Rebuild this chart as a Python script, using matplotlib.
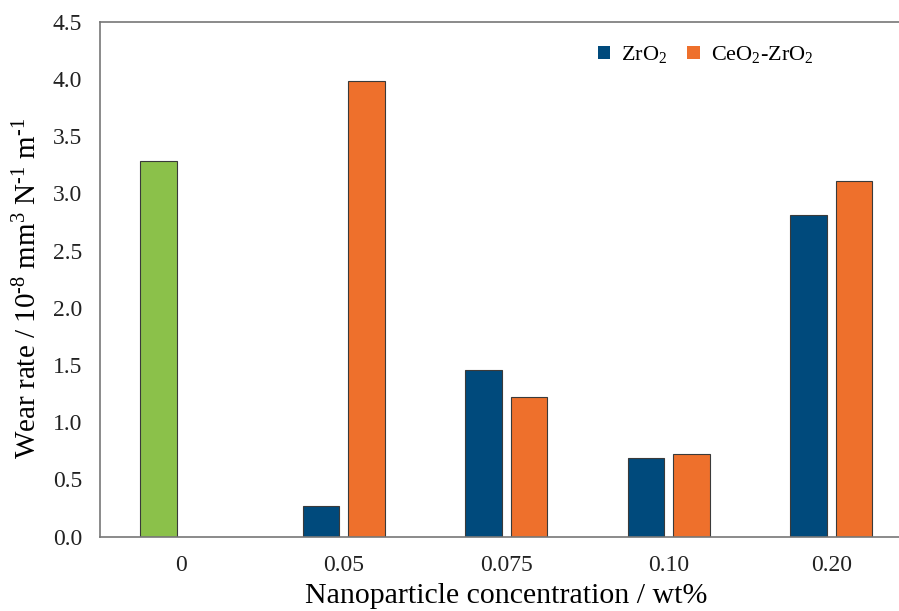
import matplotlib
matplotlib.use("Agg")
import matplotlib.pyplot as plt
import numpy as np

plt.rcParams['font.family'] = ['Liberation Serif', 'DejaVu Serif']
plt.rcParams['mathtext.fontset'] = 'custom'
plt.rcParams['mathtext.rm'] = 'Liberation Serif'
plt.rcParams['mathtext.it'] = 'Liberation Serif:italic'

categories = ["0", "0.05", "0.075", "0.10", "0.20"]
control = [3.28]
zro2 = [0.27, 1.46, 0.69, 2.81]
ceo2_zro2 = [3.98, 1.22, 0.72, 3.11]

c_blue = "#004A7C"
c_orange = "#EE702C"
c_green = "#8BC14A"
edge = "#3a3a3a"

W, H = 899, 611
fig = plt.figure(figsize=(W / 100, H / 100), dpi=100)
left, right, top, bottom = 100, 912.5, 21.7, 536.7
ax = fig.add_axes([left / W, (H - bottom) / H, (right - left) / W, (bottom - top) / H])

x = np.arange(len(categories))
bw = 0.225
off = 0.14
ax.bar(x[0] - off, control[0], bw, color=c_green, edgecolor=edge, linewidth=0.8)
ax.bar(x[1:] - off, zro2, bw, color=c_blue, edgecolor=edge, linewidth=0.8, label="ZrO$_2$")
ax.bar(x[1:] + off, ceo2_zro2, bw, color=c_orange, edgecolor=edge, linewidth=0.8, label="CeO$_2$-ZrO$_2$")

ax.set_xlim(-0.5, 4.5)
ax.set_ylim(0, 4.5)
ax.set_xticks(x)
ax.set_xticklabels(categories)
ax.set_yticks(np.arange(0, 4.51, 0.5))
ax.set_yticklabels([f"{v:.1f}" for v in np.arange(0, 4.51, 0.5)])
ax.tick_params(axis='both', length=0, labelsize=17, colors='#222222')
ax.tick_params(axis='x', pad=13)
ax.tick_params(axis='y', pad=13)
for s in ['left', 'top', 'bottom']:
    ax.spines[s].set_color('#777777')
    ax.spines[s].set_linewidth(1.2)
ax.spines['right'].set_visible(False)

ax.set_xlabel("Nanoparticle concentration / wt%", fontsize=21.5, labelpad=5)
ax.set_ylabel(r"Wear rate / 10$^{\text{-}8}$ mm$^{3}$ N$^{\text{-}1}$ m$^{\text{-}1}$", fontsize=21)
ax.yaxis.set_label_coords(-58 / (right - left), 0.483)

leg = ax.legend(loc='upper left', bbox_to_anchor=(478 / (right - left), 0.995),
                ncol=2, frameon=False, fontsize=16, handlelength=0.55, handleheight=0.55,
                handletextpad=0.5, columnspacing=0.9)
for h in leg.legend_handles:
    h.set_edgecolor('none')

fig.savefig("out.png", dpi=100)
